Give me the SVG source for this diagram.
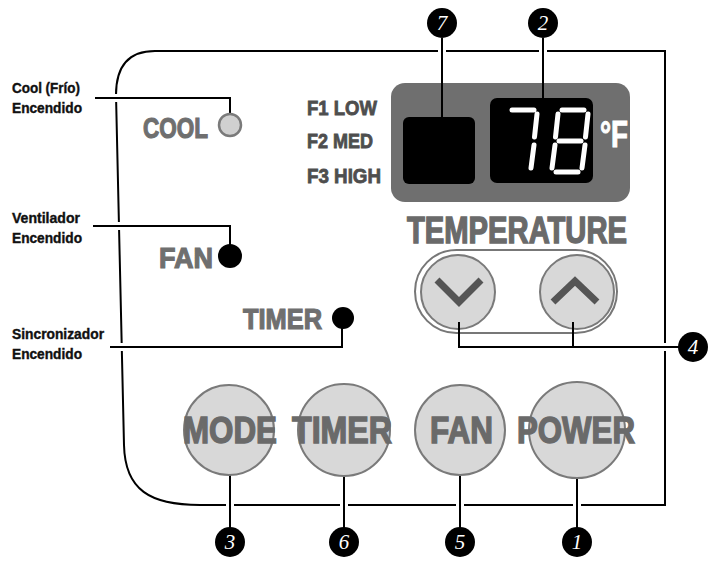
<svg xmlns="http://www.w3.org/2000/svg" width="712" height="562" viewBox="0 0 712 562">
<style>
.lbl{font-family:"Liberation Sans Narrow","Liberation Sans",Arial,sans-serif;font-weight:bold;font-size:15px;fill:#111;stroke:#111;stroke-width:0.4}
.ind{font-family:"Liberation Sans Narrow","Liberation Sans",Arial,sans-serif;font-weight:bold;font-size:29px;fill:#6f6f6f;stroke:#6f6f6f;stroke-width:1.2}
.fs{font-family:"Liberation Sans Narrow","Liberation Sans",Arial,sans-serif;font-weight:bold;font-size:20px;fill:#4e4e4e;stroke:#4e4e4e;stroke-width:0.8}
.big{font-family:"Liberation Sans Narrow","Liberation Sans",Arial,sans-serif;font-weight:bold;font-size:36px;fill:#6a6a6a;stroke:#6a6a6a;stroke-width:1.4}
.btn{fill:#d8d8d8;stroke:#7a7a7a;stroke-width:2}
.badge{fill:#000}
.num{font-family:"Liberation Serif","DejaVu Serif",serif;font-style:italic;font-size:21px;fill:#fff;text-anchor:middle}
.wire{fill:none;stroke:#000;stroke-width:2}
.halo{fill:none;stroke:#fff;stroke-width:8}
.seg{stroke:#fff;stroke-width:5;stroke-linecap:round}
.chev{fill:none;stroke:#555;stroke-width:7}
</style>
<rect width="712" height="562" fill="#fff"/>
<g id="panel">
<path d="M665 51 L155 51 Q116 51 116 95 L124 445 C125 490 150 505 200 505 L665 505 Z" fill="#fff" stroke="#000" stroke-width="2"/>
</g>
<g id="display">
<rect x="391" y="83" width="239" height="119" rx="14" fill="#6f6f6f"/>
<rect x="403" y="117" width="72" height="67" rx="6" fill="#000"/>
<rect x="490" y="98" width="103" height="85" rx="7" fill="#000"/>
<g id="digits">
<line class="seg" x1="512" y1="110" x2="534" y2="110"/>
<line class="seg" x1="537" y1="114" x2="534.5" y2="137"/>
<line class="seg" x1="534" y1="145" x2="531" y2="168"/>
<line class="seg" x1="562" y1="110" x2="584" y2="110"/>
<line class="seg" x1="588" y1="114" x2="585.5" y2="137"/>
<line class="seg" x1="585" y1="145" x2="582" y2="168"/>
<line class="seg" x1="556" y1="172" x2="578" y2="172"/>
<line class="seg" x1="555" y1="145" x2="552" y2="168"/>
<line class="seg" x1="558" y1="114" x2="555.5" y2="137"/>
<line class="seg" x1="559" y1="141" x2="581" y2="141"/>
</g>
<text x="600" y="147" textLength="28" lengthAdjust="spacingAndGlyphs" font-family="Liberation Sans Narrow,Liberation Sans,sans-serif" font-weight="bold" font-size="37" fill="#fff" stroke="#fff" stroke-width="1">°F</text>
</g>
<g id="fan-speeds">
<text class="fs" x="307" y="115" textLength="70" lengthAdjust="spacingAndGlyphs">F1 LOW</text>
<text class="fs" x="307" y="148" textLength="66" lengthAdjust="spacingAndGlyphs">F2 MED</text>
<text class="fs" x="307" y="183" textLength="74" lengthAdjust="spacingAndGlyphs">F3 HIGH</text>
</g>
<g id="temperature">
<text class="big" x="407" y="243" textLength="220" lengthAdjust="spacingAndGlyphs">TEMPERATURE</text>
<rect x="415" y="250" width="202" height="83" rx="41.5" fill="#fff" stroke="#777" stroke-width="2"/>
<circle class="btn" cx="458" cy="292" r="37"/>
<circle class="btn" cx="577" cy="292" r="37"/>
<polyline class="chev" points="437,280 459,302 481,280"/>
<polyline class="chev" points="553,302 575,281 597,302"/>
</g>
<g id="connectors">
<path class="halo" d="M106 98 L128 98 M106 226 L130 226 M110 347 L134 347 M442 43 L442 60 M543 43 L543 60 M655 347 L676 347 M230 495 L230 515 M344 495 L344 515 M460 495 L460 515 M577 495 L577 515"/>
<path class="wire" d="M95 98 L230 98 L230 116"/>
<path class="wire" d="M93 226 L230 226 L230 248"/>
<path class="wire" d="M110 347 L342 347 L342 322"/>
<path class="wire" d="M442 38 L442 120"/>
<path class="wire" d="M543 38 L543 102"/>
<path class="wire" d="M459 322 L459 347 L680 347 M573 322 L573 347"/>
<path class="wire" d="M230 475 L230 530"/>
<path class="wire" d="M344 476 L344 530"/>
<path class="wire" d="M460 475 L460 530"/>
<path class="wire" d="M577 477 L577 530"/>
</g>
<g id="cool-indicator">
<text class="lbl" x="12" y="93" textLength="68" lengthAdjust="spacingAndGlyphs">Cool (Frío)</text>
<text class="lbl" x="12" y="113" textLength="70" lengthAdjust="spacingAndGlyphs">Encendido</text>
<text class="ind" x="143" y="138" textLength="65" lengthAdjust="spacingAndGlyphs">COOL</text>
<circle cx="230" cy="125" r="11" fill="#d0d0d0" stroke="#7a7a7a" stroke-width="2.5"/>
</g>
<g id="fan-indicator">
<text class="lbl" x="12" y="223" textLength="68" lengthAdjust="spacingAndGlyphs">Ventilador</text>
<text class="lbl" x="12" y="243" textLength="70" lengthAdjust="spacingAndGlyphs">Encendido</text>
<text class="ind" x="159" y="268" textLength="54" lengthAdjust="spacingAndGlyphs">FAN</text>
<circle cx="230" cy="256" r="12" fill="#000"/>
</g>
<g id="timer-indicator">
<text class="lbl" x="12" y="339" textLength="92" lengthAdjust="spacingAndGlyphs">Sincronizador</text>
<text class="lbl" x="12" y="359" textLength="70" lengthAdjust="spacingAndGlyphs">Encendido</text>
<text class="ind" x="243" y="329" textLength="79" lengthAdjust="spacingAndGlyphs">TIMER</text>
<circle cx="343" cy="318" r="11" fill="#000"/>
</g>
<g id="mode-button">
<circle class="btn" cx="229" cy="430" r="45"/>
<text class="big" x="183" y="443" textLength="94" lengthAdjust="spacingAndGlyphs">MODE</text>
</g>
<g id="timer-button">
<circle class="btn" cx="344" cy="430" r="46"/>
<text class="big" x="292" y="443" textLength="100" lengthAdjust="spacingAndGlyphs">TIMER</text>
</g>
<g id="fan-button">
<circle class="btn" cx="460" cy="430" r="45"/>
<text class="big" x="430" y="443" textLength="63" lengthAdjust="spacingAndGlyphs">FAN</text>
</g>
<g id="power-button">
<circle class="btn" cx="577" cy="430" r="48"/>
<text class="big" x="517" y="443" textLength="118" lengthAdjust="spacingAndGlyphs">POWER</text>
</g>
<g id="badge-7"><circle class="badge" cx="442" cy="23" r="15"/><text class="num" x="442" y="30">7</text></g>
<g id="badge-2"><circle class="badge" cx="543" cy="23" r="15"/><text class="num" x="543" y="30">2</text></g>
<g id="badge-4"><circle class="badge" cx="693" cy="347" r="15"/><text class="num" x="693" y="354">4</text></g>
<g id="badge-3"><circle class="badge" cx="230" cy="542" r="15"/><text class="num" x="230" y="549">3</text></g>
<g id="badge-6"><circle class="badge" cx="344" cy="542" r="15"/><text class="num" x="344" y="549">6</text></g>
<g id="badge-5"><circle class="badge" cx="460" cy="542" r="15"/><text class="num" x="460" y="549">5</text></g>
<g id="badge-1"><circle class="badge" cx="577" cy="542" r="15"/><text class="num" x="577" y="549">1</text></g>
</svg>
